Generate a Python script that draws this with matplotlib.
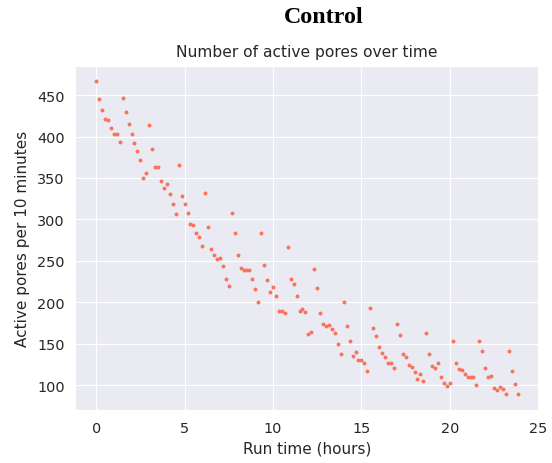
import numpy as np
import matplotlib
matplotlib.use("Agg")
import matplotlib.pyplot as plt
import seaborn as sns

# active pores counted every 10 minutes
pores = [
    466.5, 445, 431.6, 421.5, 420, 410, 402.7, 402.7, 393.4, 446.4,
    429.5, 414.7, 402.7, 392, 382, 372, 349.7, 356, 414, 384.6,
    363, 363, 346, 337.3, 343, 330.5, 319, 306.8, 365.4, 328.5,
    318, 308, 294.4, 293, 283, 278.8, 267.5, 331.7, 291, 264.3,
    257.5, 251.8, 253, 243.9, 228, 219.4, 308, 283, 257.5, 241.8,
    239.4, 239.4, 239.4, 228, 215.7, 200, 283, 245, 227, 212.6,
    218, 207.7, 188.9, 188.9, 186.5, 266.2, 228, 221.4, 207, 188.9,
    191.3, 187.7, 161.6, 164, 240.6, 217, 186.5, 174, 171.7, 172.9,
    167.2, 162.8, 149.2, 137, 200, 170.8, 152.8, 135, 140.4, 130.3,
    130.3, 126, 116.7, 193.3, 168.4, 159.6, 146, 138.3, 133.5, 126,
    126, 121, 174, 160.8, 137, 133.5, 124.7, 122.3, 115.5, 106.7,
    113.4, 104.6, 163.3, 138, 123.5, 121, 126, 109.8, 103, 98.6,
    103, 152.8, 126, 119.1, 117.9, 113.5, 109.9, 109.1, 109.1, 99.8,
    152.8, 141.6, 120.3, 109.8, 111, 96.6, 94.2, 97.4, 95.4, 88.6,
    140.7, 116.7, 101, 88.6,
]
hours = np.arange(len(pores)) / 6.0

sns.set_style("darkgrid")
plt.rcParams['font.family'] = ['DejaVu Sans']

fig = plt.figure(figsize=(5.52, 4.64), dpi=100)
ax = fig.add_axes([0.136, 0.114, 0.840, 0.742])
ax.scatter(hours, pores, s=8, color='#f8735d', linewidths=0, zorder=3)

ax.set_title("Number of active pores over time", fontsize=11.2, color='#262626', pad=7)
ax.set_xlabel("Run time (hours)", fontsize=11, color='#262626', labelpad=4)
ax.set_ylabel("Active pores per 10 minutes", fontsize=11, color='#262626', labelpad=5)
ax.tick_params(labelsize=10.4, colors='#262626', pad=4)
ax.set_xticks([0, 5, 10, 15, 20, 25])

fig.text(0.586, 0.962, "Control", ha='center', va='center', fontsize=17.3,
         fontweight='bold', color='black',
         family=['Liberation Serif', 'DejaVu Serif'])

fig.savefig("out.png", dpi=100)
